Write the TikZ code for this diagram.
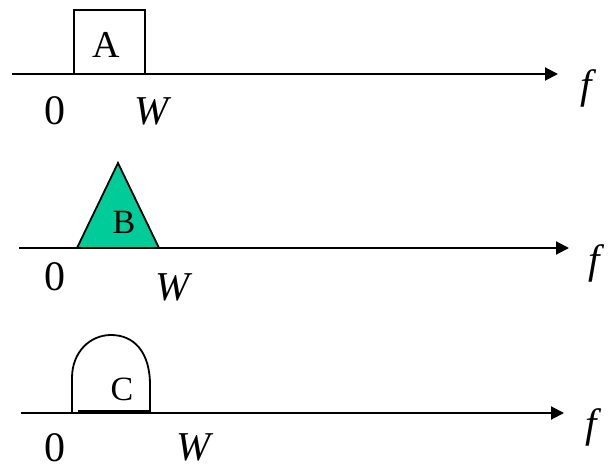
\documentclass[tikz,border=0pt]{standalone}
\usepackage{fontspec}
\setmainfont{Liberation Serif}
\usetikzlibrary{arrows.meta}
\definecolor{bgreen}{HTML}{00CC99}
\tikzset{
  axis/.style={line width=2pt,-{Triangle[length=13pt,width=13pt]}},
  shapeline/.style={line width=1.8pt},
  albl/.style={inner sep=0pt,font=\fontsize{38}{44}\selectfont},
  lbl/.style={inner sep=0pt,font=\fontsize{42}{46}\selectfont},
  slbl/.style={inner sep=0pt,font=\fontsize{34}{40}\selectfont},
  ilbl/.style={inner sep=0pt,font=\fontsize{41}{46}\selectfont\itshape},
  flbl/.style={inner sep=0pt,font=\fontsize{41}{46}\selectfont\itshape},
}
\begin{document}
\begin{tikzpicture}[x=1pt,y=-1pt]
\useasboundingbox (0,0) rectangle (609,470);
% axis 1
\coordinate (a1s) at (12,74);
\coordinate (a1e) at (558,74);
\draw[shapeline] (74,74) rectangle (145,10);
\draw[axis] (a1s) -- (a1e);
\node[albl] (A) at (106,45) {A};
\node[lbl] (z1) at (55,111) {0};
\node[ilbl] (w1) at (152,111) {W};
\node[flbl] (f1) at (586,88) {f};
% axis 2
\coordinate (a2s) at (19,248);
\coordinate (a2e) at (569,248);
\draw[shapeline,fill=bgreen] (77,248) -- (118,163) -- (159,248) -- cycle;
\draw[axis] (a2s) -- (a2e);
\node[slbl] (B) at (124,222) {B};
\node[lbl] (z2) at (55,277) {0};
\node[ilbl] (w2) at (173,287) {W};
\node[flbl] (f2) at (594,263) {f};
% axis 3
\coordinate (a3s) at (21,413);
\coordinate (a3e) at (564,413);
\draw[shapeline] (72,413) -- (72,378) .. controls (72,352) and (90,335) .. (111,335) .. controls (134,335) and (150,352) .. (150,385) -- (150,413);
\draw[line width=2.5pt] (78,411.5) -- (150,411.5);
\draw[axis] (a3s) -- (a3e);
\node[slbl] (C) at (122,389) {C};
\node[lbl] (z3) at (55,448) {0};
\node[ilbl] (w3) at (194,447) {W};
\node[flbl] (f3) at (591,427) {f};
\end{tikzpicture}
\end{document}
